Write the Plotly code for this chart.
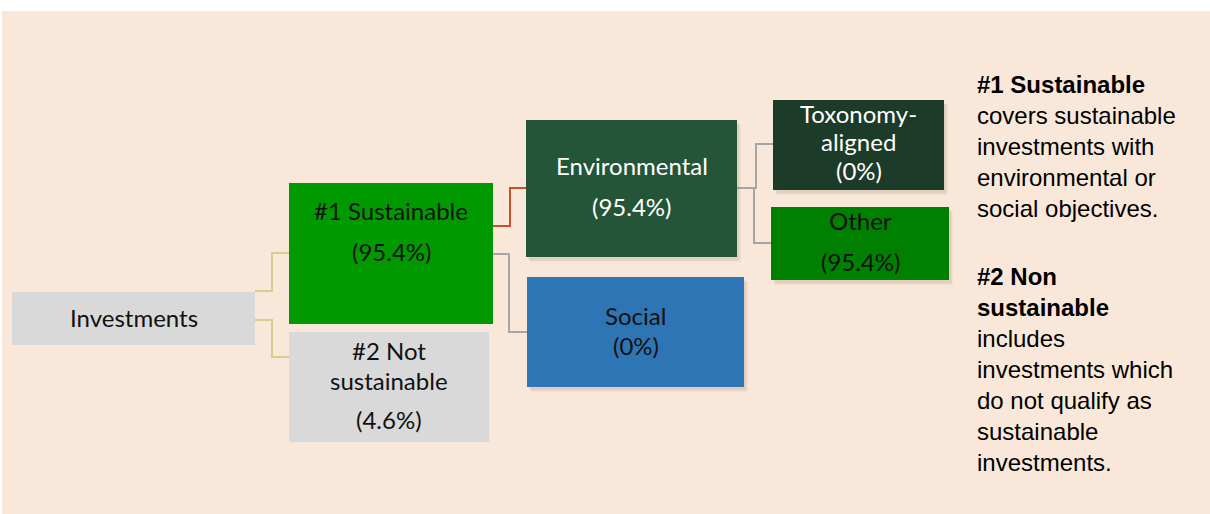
import plotly.graph_objects as go

# ---- data ----
node_names = ["Investments", "#1 Sustainable", "#2 Not sustainable",
              "Environmental", "Social", "Toxonomy-aligned", "Other"]
node_shares = [None, 95.4, 4.6, 95.4, 0, 0, 95.4]
# text lines displayed inside each box
node_lines = [
    ["Investments"],
    ["#1 Sustainable", "(95.4%)"],
    ["#2 Not", "sustainable", "(4.6%)"],
    ["Environmental", "(95.4%)"],
    ["Social", "(0%)"],
    ["Toxonomy-", "aligned", "(0%)"],
    ["Other", "(95.4%)"],
]
edges = [(0, 1), (0, 2), (1, 3), (1, 4), (3, 5), (3, 6)]

side_text = [
    ("#1 Sustainable", True), ("covers sustainable", False), ("investments with", False),
    ("environmental or", False), ("social objectives.", False), ("", False),
    ("#2 Non", True), ("sustainable", True), ("includes", False),
    ("investments which", False), ("do not qualify as", False),
    ("sustainable", False), ("investments.", False),
]

# ---- layout / style (pixel space) ----
W, H = 1210, 514
boxes = [  # x0, x1, y0, y1
    (12, 255, 292, 345),
    (289, 493, 183, 324),
    (289, 489, 332, 442),
    (526, 737, 120, 257),
    (527, 744, 277, 387),
    (773, 944, 100, 190),
    (771, 949, 207, 280),
]
fills = ["#D9D9D9", "#009900", "#D9D9D9", "#255539", "#2E75B6", "#1C3B29", "#008000"]
txtcol = ["#111111", "#111111", "#111111", "#FFFFFF", "#111111", "#FFFFFF", "#111111"]
line_ys = [
    [317],
    [210, 251],
    [350, 380, 419],
    [165, 206],
    [315, 345],
    [113, 141, 170],
    [220, 261],
]
shadow = [False, False, False, True, True, True, True]
# connector geometry: (y_start, x_mid, y_end)
conn = {
    (0, 1): (291, 272, 253, "#D6CC8C"),
    (0, 2): (320, 272, 357, "#D6CC8C"),
    (1, 3): (226, 510, 188, "#C9502A"),
    (1, 4): (254, 509, 332, "#A6A6A6"),
    (3, 5): (188, 756, 144, "#A6A6A6"),
    (3, 6): (188, 754, 243, "#A6A6A6"),
}

fig = go.Figure()
fig.add_trace(go.Scatter(x=[0, W], y=[0, H], mode="markers",
                         marker=dict(opacity=0), hoverinfo="skip", showlegend=False))

shapes = [dict(type="rect", xref="x", yref="y", x0=2, x1=W, y0=11, y1=H,
               fillcolor="#F9E8D9", line=dict(width=0), layer="below")]

for (a, b) in edges:
    ys, xm, ye, col = conn[(a, b)]
    xa = boxes[a][1]
    xb = boxes[b][0]
    path = f"M {xa} {ys} L {xm} {ys} L {xm} {ye} L {xb} {ye}"
    shapes.append(dict(type="path", xref="x", yref="y", path=path,
                       line=dict(color=col, width=2), layer="below"))

for i, (x0, x1, y0, y1) in enumerate(boxes):
    if shadow[i]:
        for k, op in [(5, 0.05), (4, 0.06), (3, 0.07)]:
            shapes.append(dict(type="rect", xref="x", yref="y",
                               x0=x0 + k - 1, x1=x1 + k - 1, y0=y0 + k, y1=y1 + k,
                               fillcolor=f"rgba(120,90,60,{op})", line=dict(width=0), layer="below"))
    shapes.append(dict(type="rect", xref="x", yref="y", x0=x0, x1=x1, y0=y0, y1=y1,
                       fillcolor=fills[i], line=dict(width=0), layer="below"))

annotations = []
for i, lines in enumerate(node_lines):
    xc = (boxes[i][0] + boxes[i][1]) / 2
    for txt, yy in zip(lines, line_ys[i]):
        annotations.append(dict(x=xc, y=yy, xref="x", yref="y", text=txt, showarrow=False,
                                xanchor="center", yanchor="middle",
                                font=dict(family="Lato", size=24, color=txtcol[i])))

y_side = 84
for txt, bold in side_text:
    if txt:
        annotations.append(dict(x=975, y=y_side, xref="x", yref="y",
                                text=f"<b>{txt}</b>" if bold else txt, showarrow=False,
                                xanchor="left", yanchor="middle",
                                font=dict(family="Liberation Sans, Arial", size=24, color="#000000")))
    y_side += 31 if txt else 37

fig.update_layout(
    width=W, height=H,
    margin=dict(l=0, r=0, t=0, b=0),
    paper_bgcolor="#FFFFFF", plot_bgcolor="rgba(0,0,0,0)",
    xaxis=dict(range=[0, W], visible=False, fixedrange=True),
    yaxis=dict(range=[H, 0], visible=False, fixedrange=True),
    shapes=shapes, annotations=annotations,
    showlegend=False,
)
fig.write_html("out.html", config={"displayModeBar": False},
               post_script="document.body.style.margin='0';document.body.style.overflow='hidden';")
